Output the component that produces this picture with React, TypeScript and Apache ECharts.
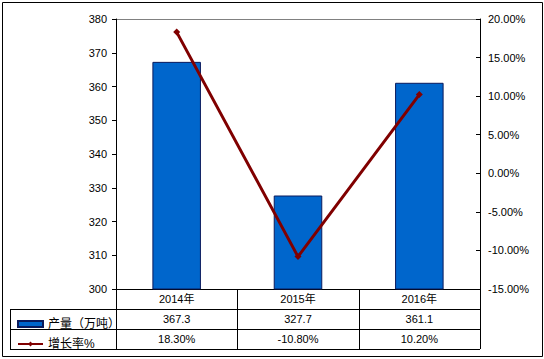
import React, { useEffect, useRef } from "react";
import * as echarts from "echarts";

const categories = ["2014年", "2015年", "2016年"];
const production = [367.3, 327.7, 361.1];
const growth = [18.3, -10.8, 10.2];
const productionName = "产量（万吨）";
const growthName = "增长率%";

const W = 544;
const H = 359;
const GL = 116;
const GT = 19;
const GR = 480;
const GB = 289;
const ROW = 20;
const TABLE_LEFT = 10;
const FONT = "'Liberation Sans', Arial, 'Noto Sans CJK SC', sans-serif";

export default function App() {
  const ref = useRef<HTMLDivElement>(null);
  useEffect(() => {
    document.body.style.margin = "0";
    if (!ref.current) return;
    const chart = echarts.init(ref.current, null, { renderer: "svg" });
    const n = categories.length;
    const colW = (GR - GL) / n;
    const tableBottom = GB + ROW * 3;
    const lineStyle = { stroke: "#000", lineWidth: 1 };
    const graphic: any[] = [
      { type: "rect", shape: { x: 2.5, y: 2.5, width: W - 4, height: H - 5 }, style: { fill: "none", stroke: "#000", lineWidth: 1 } },
      { type: "line", shape: { x1: GL, y1: GT + 0.5, x2: GR, y2: GT + 0.5 }, style: { stroke: "#808080", lineWidth: 1 } },
      { type: "line", shape: { x1: TABLE_LEFT, y1: GB + ROW + 0.5, x2: GR, y2: GB + ROW + 0.5 }, style: lineStyle },
      { type: "line", shape: { x1: TABLE_LEFT, y1: GB + ROW * 2 + 0.5, x2: GR, y2: GB + ROW * 2 + 0.5 }, style: lineStyle },
      { type: "line", shape: { x1: TABLE_LEFT, y1: tableBottom + 0.5, x2: GR, y2: tableBottom + 0.5 }, style: lineStyle },
      { type: "line", shape: { x1: TABLE_LEFT + 0.5, y1: GB + ROW, x2: TABLE_LEFT + 0.5, y2: tableBottom }, style: lineStyle },
    ];
    for (let i = 0; i <= n; i++) {
      const x = Math.round(GL + colW * i) + 0.5;
      graphic.push({ type: "line", shape: { x1: x, y1: GB, x2: x, y2: tableBottom }, style: lineStyle });
    }
    const axisText = { color: "#000", fontSize: 11, fontFamily: FONT };
    const tableAxis = (offset: number, labels: string[]) => ({
      type: "category",
      data: categories,
      gridIndex: 0,
      position: "bottom",
      offset,
      axisLine: { show: false, onZero: false },
      axisTick: { show: false },
      axisLabel: { ...axisText, margin: 4, interval: 0, formatter: (_v: string, idx: number) => labels[idx] },
    });
    chart.setOption({
      animation: false,
      backgroundColor: "#fff",
      grid: { left: GL, top: GT, right: W - GR, bottom: H - GB },
      legend: [
        {
          data: [{ name: productionName, icon: "rect" }],
          left: 12,
          top: GB + ROW + 4,
          itemWidth: 25,
          itemHeight: 6,
          itemGap: 2,
          textStyle: { ...axisText, fontSize: 12 },
          selectedMode: false,
        },
        {
          data: [growthName],
          left: 12,
          top: GB + ROW * 2 + 4,
          itemWidth: 25,
          itemHeight: 6,
          textStyle: { ...axisText, fontSize: 12 },
          selectedMode: false,
        },
      ],
      xAxis: [
        {
          type: "category",
          data: categories,
          axisLine: { onZero: false, lineStyle: { color: "#000" } },
          axisTick: { show: false },
          axisLabel: { ...axisText, margin: 4, interval: 0 },
        },
        tableAxis(ROW, production.map((v) => v.toFixed(1))),
        tableAxis(ROW * 2, growth.map((v) => v.toFixed(2) + "%")),
      ],
      yAxis: [
        {
          type: "value",
          min: 300,
          max: 380,
          interval: 10,
          axisLine: { show: true, lineStyle: { color: "#000" } },
          axisTick: { show: true, length: 4, lineStyle: { color: "#000" } },
          axisLabel: { ...axisText, margin: 9 },
          splitLine: { show: false },
        },
        {
          type: "value",
          min: -15,
          max: 20,
          interval: 5,
          position: "right",
          axisLine: { show: true, lineStyle: { color: "#000" } },
          axisTick: { show: true, inside: true, length: 4, lineStyle: { color: "#000" } },
          axisLabel: { ...axisText, margin: 8, formatter: (v: number) => v.toFixed(2) + "%" },
          splitLine: { show: false },
        },
      ],
      series: [
        {
          name: productionName,
          type: "bar",
          data: production,
          barWidth: "40%",
          itemStyle: { color: "#0066CC", borderColor: "#0A1A5C", borderWidth: 1 },
        },
        {
          name: growthName,
          type: "line",
          yAxisIndex: 1,
          data: growth,
          symbol: "diamond",
          symbolSize: 7,
          lineStyle: { color: "#800000", width: 3 },
          itemStyle: { color: "#800000" },
        },
      ],
      graphic,
    });
    return () => chart.dispose();
  }, []);
  return <div ref={ref} style={{ width: W, height: H }} />;
}
